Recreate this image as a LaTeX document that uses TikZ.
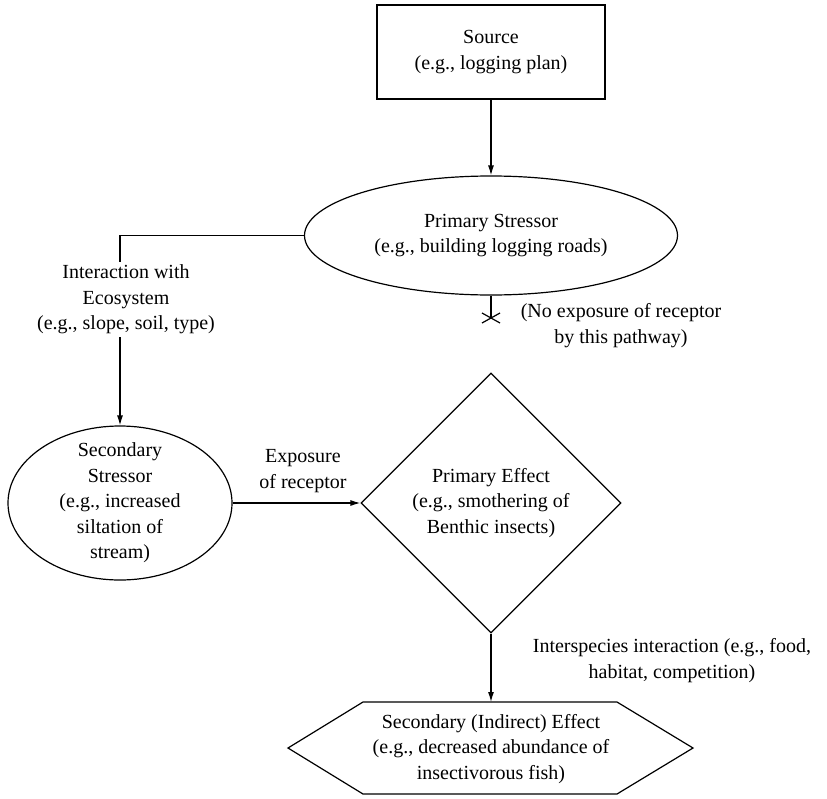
\documentclass[tikz,border=0pt]{standalone}
\usepackage{fontspec}
\setmainfont{Liberation Serif}
\usetikzlibrary{shapes.geometric,arrows.meta}
\begin{document}
\begin{tikzpicture}[x=1pt,y=-1pt,
  every node/.style={font=\fontsize{20}{25.5}\selectfont, align=center},
  line/.style={line width=1.2pt, draw=black},
  arr/.style={line, -{Latex[length=10pt,width=6pt]}},
  outline/.style={draw, line width=1.2pt, inner sep=0pt},
]
\useasboundingbox (0,0) rectangle (827,798);

% source box
\node[outline, rectangle, minimum width=228pt, minimum height=94pt] (src) at (491,52)
  {Source\\(e.g., logging plan)};

% primary stressor
\node[outline, ellipse, minimum width=373pt, minimum height=119pt] (ps) at (491,235.5) {};
\node (psT) at (ps.center) {Primary Stressor\\(e.g., building logging roads)};

% secondary stressor
\node[outline, ellipse, minimum width=224pt, minimum height=154pt] (ss) at (120,503) {};
\node (ssT) at (ss.center) {Secondary\\Stressor\\(e.g., increased\\siltation of\\stream)};

% primary effect
\node[outline, diamond, minimum width=260pt, minimum height=260pt] (pe) at (491,503) {};
\node (peT) at (pe.center) {Primary Effect\\(e.g., smothering of\\Benthic insects)};

% secondary effect (hexagon)
\draw[line] (288,748) -- (363,702) -- (617,702) -- (693,748) -- (617,794) -- (363,794) -- cycle;
\node (se) at (491,749) {Secondary (Indirect) Effect\\(e.g., decreased abundance of\\insectivorous fish)};
\coordinate (seTop) at (491,702);

% connectors
\draw[arr] (src.south) -- (ps.north);
\draw[arr] (ps.west) -| (ss.north);
\node[fill=white, inner xsep=2pt, inner ysep=3pt] (ia) at (126,299.5)
  {Interaction with\\Ecosystem\\(e.g., slope, soil, type)};

\coordinate (cut) at (491,318);
\draw[line] (ps.south) -- (cut);
\draw[line] (cut) ++(-9,-5) -- ++(18,10) (cut) ++(-9,5) -- ++(18,-10);
\node (nx) at (621,325.5) {(No exposure of receptor\\by this pathway)};

\draw[arr] (ss.east) -- (pe.west);
\node (ex) at (303,471) {Exposure\\of receptor};

\draw[arr] (pe.south) -- (seTop);
\node (ii) at (672,660.5) {Interspecies interaction (e.g., food,\\habitat, competition)};
\end{tikzpicture}
\end{document}
